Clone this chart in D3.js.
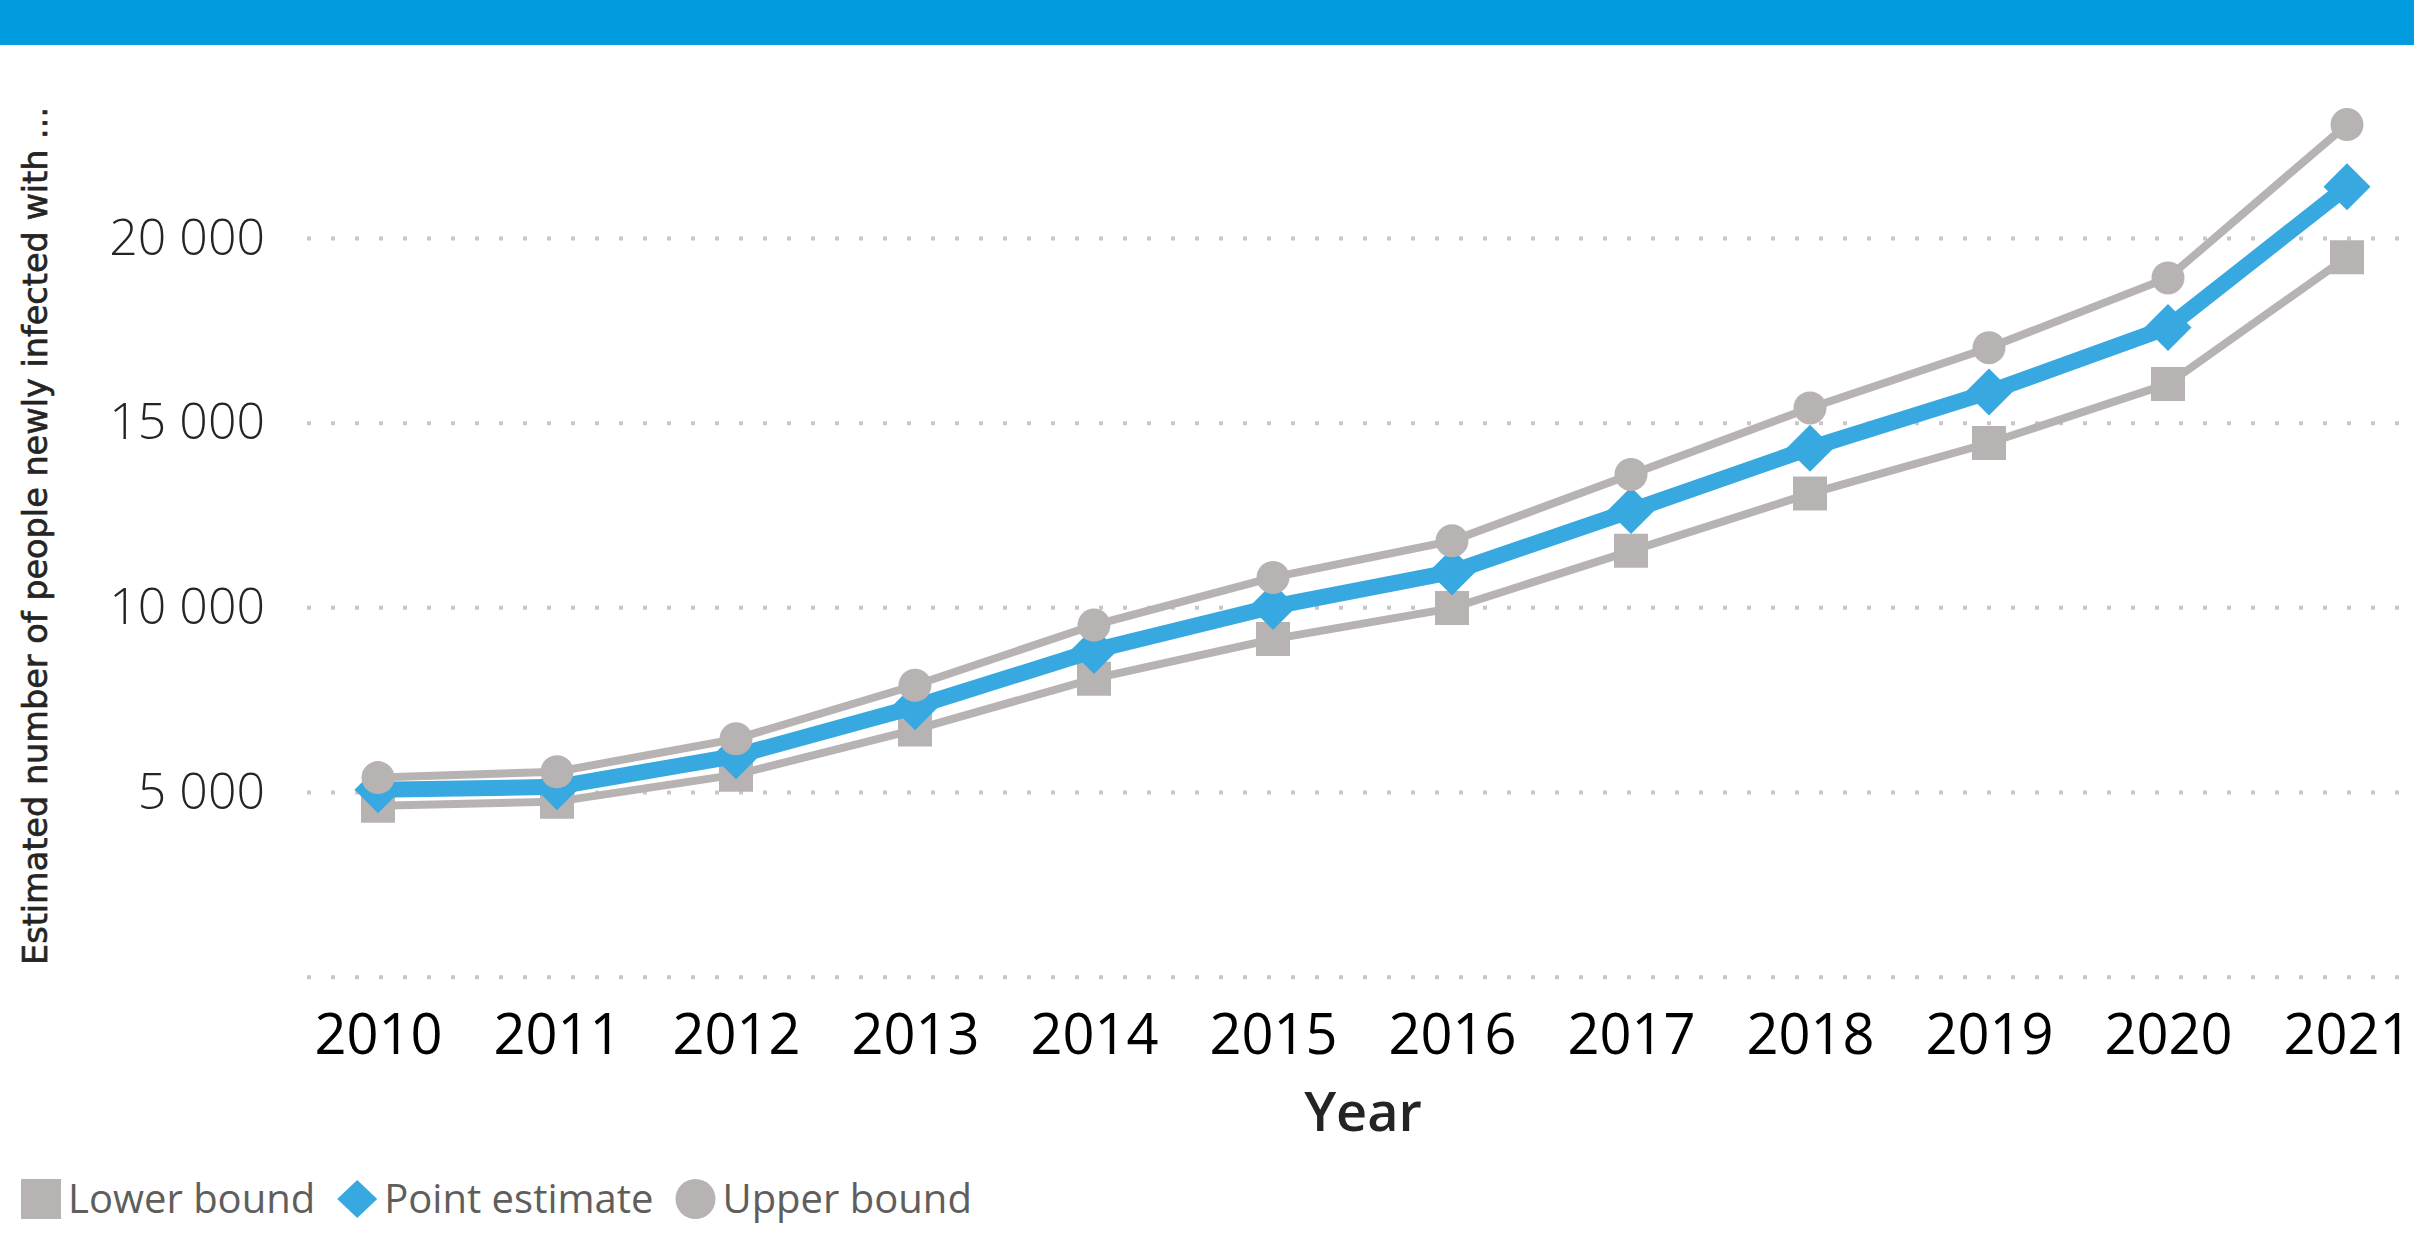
<!DOCTYPE html>
<html>
<head>
<meta charset="utf-8">
<script src="https://cdn.jsdelivr.net/npm/d3@7"></script>
<style>
  html, body { margin: 0; padding: 0; background: #fff; }
  svg { display: block; }
</style>
</head>
<body>
<svg id="chart" width="2414" height="1252"></svg>
<script>
// ---- data ----
const years = [2010, 2011, 2012, 2013, 2014, 2015, 2016, 2017, 2018, 2019, 2020, 2021];
const lowerBound    = [4630, 4740, 5470, 6690, 8070, 9140, 9980, 11530, 13080, 14450, 16050, 19480];
const pointEstimate = [5060, 5140, 5980, 7310, 8830, 10020, 10960, 12620, 14310, 15830, 17580, 21390];
const upperBound    = [5390, 5550, 6440, 7890, 9520, 10810, 11800, 13600, 15400, 17030, 18920, 23070];
const yTicks = [0, 5000, 10000, 15000, 20000];
const seriesNames = ["Lower bound", "Point estimate", "Upper bound"];
const yTitle = "Estimated number of people newly infected with ...";
const xTitle = "Year";

// ---- styles ----
const GRAY = "#b8b3b3";
const BLUE = "#38a9e0";
const series = [
  { name: seriesNames[0], values: lowerBound, color: GRAY, width: 8, symbol: d3.symbolSquare, size: 34 * 34 },
  { name: seriesNames[1], values: pointEstimate, color: BLUE, width: 16, symbol: "diamond", size: 47 },
  { name: seriesNames[2], values: upperBound, color: GRAY, width: 8, symbol: d3.symbolCircle, size: Math.PI * 16.5 * 16.5 }
];

const svg = d3.select("#chart");
const W = 2414;

// top band
svg.append("rect").attr("x", 0).attr("y", 0).attr("width", W).attr("height", 45).attr("fill", "#009cde");

const x = d3.scalePoint().domain(years).range([378, 2347]);
const y = d3.scaleLinear().domain([0, 20000]).range([976.7, 238]);

const locale = d3.formatLocale({ decimal: ".", thousands: " ", grouping: [3], currency: ["", ""] });
const fmt = locale.format(",d");

// gridlines
const grid = svg.append("g").attr("transform", "translate(307,0)")
  .call(d3.axisRight(y).tickValues(yTicks).tickSize(W - 307).tickFormat(""));
grid.select(".domain").remove();
grid.selectAll(".tick line")
  .attr("stroke", "#c8c8c8").attr("stroke-width", 4).attr("stroke-dasharray", "4 20");

// y labels
const yAxis = svg.append("g").attr("transform", "translate(265,0)")
  .call(d3.axisLeft(y).tickValues(yTicks.filter(v => v > 0)).tickSize(0).tickPadding(0).tickFormat(fmt));
yAxis.select(".domain").remove();
yAxis.selectAll("text")
  .attr("font-family", "'Open Sans', 'Noto Sans', sans-serif")
  .attr("font-weight", 300).attr("font-size", 50).attr("fill", "#252423");

// x labels
const xAxis = svg.append("g").attr("transform", "translate(0,976.7)")
  .call(d3.axisBottom(x).tickSize(0).tickPadding(38));
xAxis.select(".domain").remove();
xAxis.selectAll("text")
  .attr("font-family", "'Open Sans', 'Noto Sans', sans-serif")
  .attr("font-size", 56).attr("fill", "#000");

// axis titles
svg.append("text")
  .attr("transform", "translate(47,536) rotate(-90)")
  .attr("text-anchor", "middle")
  .attr("font-family", "'DejaVu Sans Condensed', 'DejaVu Sans', sans-serif")
  .attr("font-stretch", "condensed")
  .attr("font-size", 33).attr("fill", "#252423")
  .attr("stroke", "#252423").attr("stroke-width", 0.6)
  .attr("textLength", 858).attr("lengthAdjust", "spacingAndGlyphs")
  .text(yTitle);

svg.append("text")
  .attr("x", 1363).attr("y", 1131)
  .attr("text-anchor", "middle")
  .attr("font-family", "'Open Sans', 'Noto Sans', sans-serif")
  .attr("font-weight", 600).attr("font-size", 54).attr("fill", "#252423")
  .text(xTitle);

function symbolPath(s) {
  if (s.symbol === "diamond") {
    const h = s.size / 2;
    return `M0,${-h}L${h},0L0,${h}L${-h},0Z`;
  }
  return d3.symbol().type(s.symbol).size(s.size)();
}

// series
const line = d3.line().x((d, i) => x(years[i])).y(d => y(d));
series.forEach(s => {
  const g = svg.append("g");
  g.append("path").attr("d", line(s.values))
    .attr("fill", "none").attr("stroke", s.color).attr("stroke-width", s.width)
    .attr("stroke-linejoin", "miter");
  const p = symbolPath(s);
  g.selectAll("path.m").data(s.values).join("path").attr("class", "m")
    .attr("d", p)
    .attr("transform", (d, i) => `translate(${x(years[i])},${y(d)})`)
    .attr("fill", s.color);
});

// legend
const legend = svg.append("g").attr("transform", "translate(0,1199)");
const legendSyms = [
  { color: GRAY, path: "M-20,-20H20V20H-20Z" },
  { color: BLUE, path: "M0,-19L20,0L0,19L-20,0Z" },
  { color: GRAY, path: d3.symbol().type(d3.symbolCircle).size(Math.PI * 20 * 20)() }
];
let lx = 21;
series.forEach((s, i) => {
  legend.append("path").attr("d", legendSyms[i].path)
    .attr("transform", `translate(${lx + 20},0)`).attr("fill", legendSyms[i].color);
  const t = legend.append("text")
    .attr("x", lx + 47).attr("y", 14)
    .attr("font-family", "'Open Sans', 'Noto Sans', sans-serif")
    .attr("font-size", 40).attr("fill", "#605e5c")
    .text(s.name);
  lx = lx + 47 + t.node().getComputedTextLength() + 22;
});
</script>
</body>
</html>
